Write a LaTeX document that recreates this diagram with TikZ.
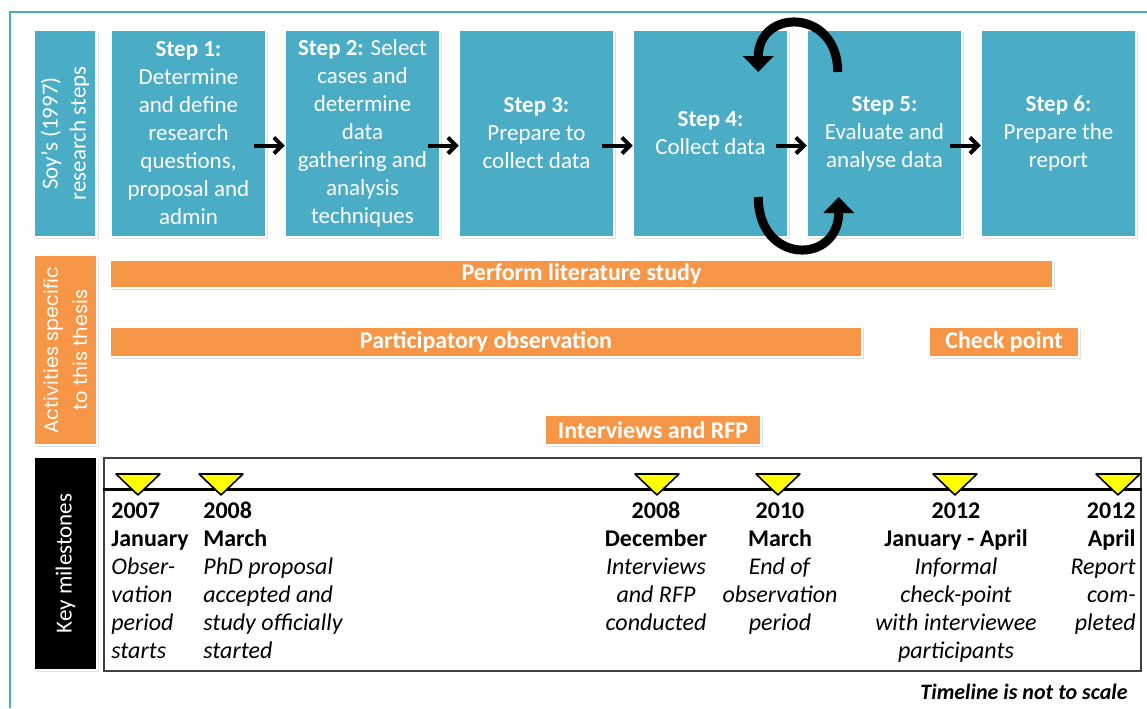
\documentclass[tikz,border=0pt]{standalone}
\usepackage{fontspec}
\setmainfont{Carlito}
\newfontfamily\gothic{Poppins}
\usetikzlibrary{positioning,arrows.meta,shadows}
\definecolor{aqua}{HTML}{4BACC6}
\definecolor{tangerine}{HTML}{F79646}
\definecolor{marker}{HTML}{FFFF00}
\tikzset{
  box/.style={draw=white,line width=1.2pt,inner sep=0pt,outer sep=0pt,text=white,
    drop shadow={shadow xshift=1pt,shadow yshift=-1pt,opacity=0.25}},
  stepbox/.style={box,fill=aqua,minimum width=77.75pt,minimum height=103.5pt,
    align=center,font=\fontsize{11.5}{14}\selectfont},
  sidebox/.style={box,minimum height=31.5pt,align=center,rotate=90,
    font=\fontsize{11.5}{14}\selectfont},
  bar/.style={box,fill=tangerine,minimum height=15pt,
    font=\bfseries\fontsize{12}{14}\selectfont},
  flow/.style={-{Straight Barb[length=4pt,width=8pt]},line width=2pt},
  backarrow/.style={-{Triangle[length=8pt,width=15pt]},line width=4.5pt},
  milestone/.style={inner sep=0pt,font=\fontsize{12}{14}\selectfont},
  flag/.style={draw=black,line width=0.8pt,fill=marker,line join=round}
}
\begin{document}
\begin{tikzpicture}[x=0.5pt,y=-0.5pt]
\useasboundingbox (0,0) rectangle (1147,708);
% outer frame
\draw[aqua,line width=0.75pt] (10,708) -- (10,12) -- (1147,12);

% research steps
\node[sidebox,fill=aqua,minimum width=103.5pt] (soy) at (65,133.5) {Soy’s (1997)\\research steps};
\node[stepbox] (s1) at (188.5,133.5) {\textbf{Step 1:}\\Determine\\and define\\research\\questions,\\proposal and\\admin};
\node[stepbox,right=9.25pt of s1] (s2) {\textbf{Step 2:} Select\\cases and\\determine\\data\\gathering and\\analysis\\techniques};
\node[stepbox,right=9.25pt of s2] (s3) {\textbf{Step 3:}\\Prepare to\\collect data};
\node[stepbox,right=9.25pt of s3] (s4) {\textbf{Step 4:}\\Collect data};
\node[stepbox,right=9.25pt of s4] (s5) {\textbf{Step 5:}\\Evaluate and\\analyse data};
\node[stepbox,right=9.25pt of s5] (s6) {\textbf{Step 6:}\\Prepare the\\report};

\foreach \a/\b in {s1/s2,s2/s3,s3/s4,s4/s5,s5/s6}
  \draw[flow] ([xshift=-6pt,yshift=-6pt]\a.east) -- ([yshift=-6pt]\b.west);

% iteration between step 4 and step 5
\draw[backarrow] ([xshift=15.5pt,yshift=-21pt]s5.north west) .. controls +(0,-64) and +(0,-64) .. ([xshift=-15pt,yshift=-21pt]s4.north east);
\draw[backarrow] ([xshift=-15pt,yshift=20pt]s4.south east) .. controls +(0,68) and +(0,68) .. ([xshift=16pt,yshift=20pt]s5.south west);

% activities
\node[sidebox,fill=tangerine,minimum width=95pt,font=\gothic\fontsize{9.7}{14.5}\selectfont] (act) at (65.5,350) {Activities specific\\to this thesis};
\node[bar,minimum width=471.5pt,minimum height=14pt] (lit) at (581.5,274) {Perform literature study};
\node[bar,minimum width=376pt] (obs) at (486,342) {Participatory observation};
\node[bar,minimum width=75pt] (chk) at (1004,342) {Check point};
\node[bar,minimum width=108pt] (intv) at (653,430) {Interviews and RFP};

% milestones
\node[sidebox,fill=black,minimum width=106.5pt] (key) at (65.5,563.5) {Key milestones};
\node[draw=black!75,line width=0.9pt,minimum width=518.5pt,minimum height=106.5pt] (tl) at (622.5,564.5) {};
\draw[line width=1.5pt] ([yshift=-16pt]tl.north west) -- ([yshift=-16pt]tl.north east);
\foreach \x in {138,221,657,778,955,1118}
  \draw[flag] (\x-22,474) -- (\x+22,474) -- (\x,495) -- cycle;

\node[milestone,anchor=north west,align=left] (m1) at (111,502) {\textbf{2007}\\\textbf{January}\\\textit{Obser-}\\\textit{vation}\\\textit{period}\\\textit{starts}};
\node[milestone,anchor=north west,align=left] (m2) at (203,502) {\textbf{2008}\\\textbf{March}\\\textit{PhD proposal}\\\textit{accepted and}\\\textit{study officially}\\\textit{started}};
\node[milestone,anchor=north,align=center] (m3) at (656,502) {\textbf{2008}\\\textbf{December}\\\textit{Interviews}\\\textit{and RFP}\\\textit{conducted}};
\node[milestone,anchor=north,align=center] (m4) at (780,502) {\textbf{2010}\\\textbf{March}\\\textit{End of}\\\textit{observation}\\\textit{period}};
\node[milestone,anchor=north,align=center] (m5) at (956,502) {\textbf{2012}\\\textbf{January - April}\\\textit{Informal}\\\textit{check-point}\\\textit{with interviewee}\\\textit{participants}};
\node[milestone,anchor=north east,align=right] (m6) at (1136,502) {\textbf{2012}\\\textbf{April}\\\textit{Report}\\\textit{com-}\\\textit{pleted}};

\node[milestone,anchor=east,font=\bfseries\itshape\fontsize{11}{13}\selectfont] (note) at (1128,692) {Timeline is not to scale};
\end{tikzpicture}
\end{document}
